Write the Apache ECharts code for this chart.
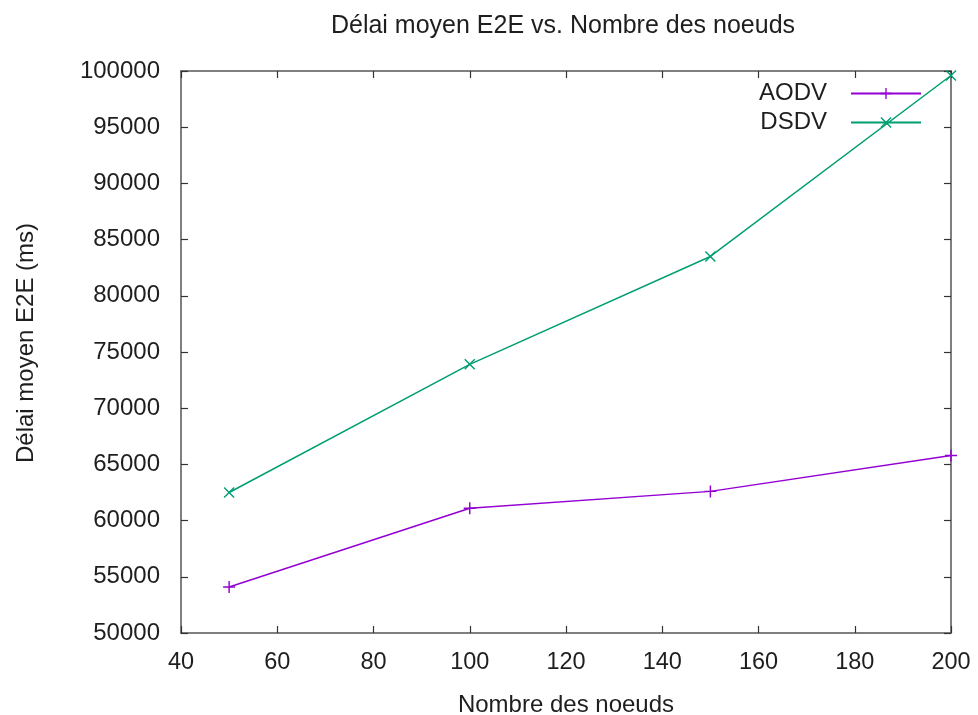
<!DOCTYPE html>
<html>
<head>
<meta charset="utf-8">
<script src="https://cdn.jsdelivr.net/npm/echarts@6/dist/echarts.min.js"></script>
<style>
  html, body { margin: 0; padding: 0; background: #fff; }
  #chart { width: 978px; height: 715px; }
</style>
</head>
<body>
<div id="chart"></div>
<script>
// Number of nodes (x) and mean end-to-end delay in ms for each protocol
const nodes = [50, 100, 150, 200];
const aodvDelay = [54100, 61100, 62600, 65800];
const dsdvDelay = [62500, 73900, 83500, 99600];

const xTicks = { min: 40, max: 200, interval: 20 };
const yTicks = { min: 50000, max: 100000, interval: 5000 };

const FONT = '"Liberation Sans", Arial, sans-serif';
const AXIS_COLOR = '#555';
const TEXT_COLOR = '#1e1e1e';

// gnuplot-style point shapes: "+" and "x"
const PLUS = 'path://M4.4,0H5.6V4.4H10V5.6H5.6V10H4.4V5.6H0V4.4H4.4Z';
const CROSS = 'path://M0,0.9L0.9,0L5,4.1L9.1,0L10,0.9L5.9,5L10,9.1L9.1,10L5,5.9L0.9,10L0,9.1L4.1,5Z';

const toPairs = (xs, ys) => xs.map((x, i) => [x, ys[i]]);

const axisLine = { show: true, lineStyle: { color: AXIS_COLOR, width: 1.5 } };
const tickIn = { show: true, inside: true, length: 7, lineStyle: { color: '#333', width: 1.2 } };

const chart = echarts.init(document.getElementById('chart'));
chart.setOption({
  animation: false,
  backgroundColor: '#fff',
  textStyle: { fontFamily: FONT },
  title: {
    text: 'Délai moyen E2E vs. Nombre des noeuds',
    left: 563,
    top: 14,
    textAlign: 'center',
    padding: 0,
    textStyle: { fontFamily: FONT, fontSize: 25, fontWeight: 'normal', color: TEXT_COLOR }
  },
  legend: {
    orient: 'vertical',
    right: 56,
    top: 79,
    padding: 0,
    align: 'right',
    itemWidth: 70,
    itemHeight: 14,
    itemGap: 0,
    textStyle: { fontFamily: FONT, fontSize: 24, color: TEXT_COLOR, lineHeight: 29, padding: [0, 19, 0, 0] },
    data: ['AODV', 'DSDV']
  },
  grid: { left: 181, right: 27, top: 71, bottom: 82, containLabel: false, outerBoundsMode: 'none' },
  xAxis: [
    {
      type: 'value',
      min: xTicks.min, max: xTicks.max, interval: xTicks.interval,
      name: 'Nombre des noeuds',
      nameLocation: 'middle',
      nameGap: 60,
      nameTextStyle: { fontFamily: FONT, fontSize: 24, color: TEXT_COLOR },
      axisLine: axisLine,
      axisTick: tickIn,
      axisLabel: { margin: 18, fontFamily: FONT, fontSize: 23.5, color: TEXT_COLOR },
      splitLine: { show: false }
    },
    {
      type: 'value', position: 'top',
      min: xTicks.min, max: xTicks.max, interval: xTicks.interval,
      axisLine: axisLine,
      axisTick: tickIn,
      axisLabel: { show: false },
      splitLine: { show: false }
    }
  ],
  yAxis: [
    {
      type: 'value',
      min: yTicks.min, max: yTicks.max, interval: yTicks.interval,
      name: 'Délai moyen E2E (ms)',
      nameLocation: 'middle',
      nameGap: 143,
      nameTextStyle: { fontFamily: FONT, fontSize: 24, color: TEXT_COLOR, padding: [0, 0, 0, 18] },
      axisLine: axisLine,
      axisTick: tickIn,
      axisLabel: { margin: 21, fontFamily: FONT, fontSize: 24, color: TEXT_COLOR, formatter: v => String(v) },
      splitLine: { show: false }
    },
    {
      type: 'value', position: 'right',
      min: yTicks.min, max: yTicks.max, interval: yTicks.interval,
      axisLine: axisLine,
      axisTick: tickIn,
      axisLabel: { show: false },
      splitLine: { show: false }
    }
  ],
  series: [
    {
      name: 'AODV',
      type: 'line',
      data: toPairs(nodes, aodvDelay),
      symbol: PLUS,
      symbolSize: 12,
      showAllSymbol: true,
      color: '#9400d3',
      itemStyle: { color: '#9400d3' },
      lineStyle: { color: '#9400d3', width: 1.5 }
    },
    {
      name: 'DSDV',
      type: 'line',
      data: toPairs(nodes, dsdvDelay),
      symbol: CROSS,
      symbolSize: 11,
      showAllSymbol: true,
      color: '#009e73',
      itemStyle: { color: '#009e73' },
      lineStyle: { color: '#009e73', width: 1.5 }
    }
  ]
});
</script>
</body>
</html>
